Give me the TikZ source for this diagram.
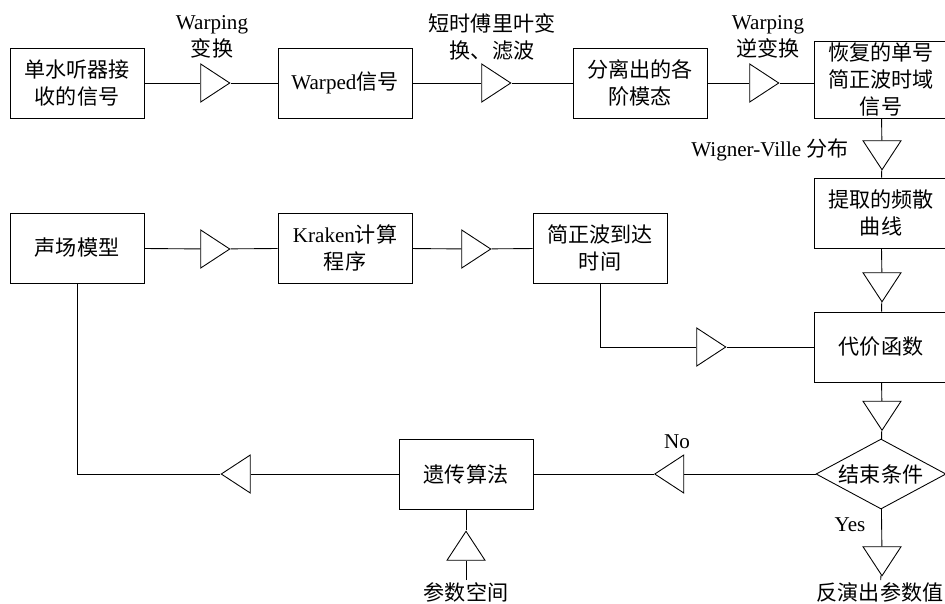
\documentclass[tikz,border=0pt]{standalone}
\usepackage{fontspec}
\setmainfont{Liberation Serif}
\newfontfamily\cjk{Noto Sans CJK SC}
\usetikzlibrary{shapes.geometric}
\newcommand{\zh}[1]{{\cjk #1}}
\tikzset{
  box/.style={draw,minimum width=2.68cm,minimum height=1.4cm,align=center,inner sep=1pt},
  tri/.style={draw,isosceles triangle,isosceles triangle stretches,inner sep=0pt,
    minimum width=0.76cm,minimum height=0.58cm,shape border rotate=#1},
  tri/.default=0,
  lbl/.style={align=center,inner sep=1pt}
}
\begin{document}
\begin{tikzpicture}[x=0.02cm,y=-0.02cm,line width=0.5pt,font=\fontsize{12}{15.3}\selectfont]
\useasboundingbox (0,0) rectangle (945,603);

% top row
\node[box] (rx) at (77,83) {\zh{单水听器接}\\\zh{收的信号}};
\node[tri] (t1) at (211,83) {};
\node[box] (wsig) at (345,83) {Warped\zh{信号}};
\node[tri] (t2) at (492,83) {};
\node[box] (modes) at (640,83) {\zh{分离出的各}\\\zh{阶模态}};
\node[tri] (t3) at (760,83) {};
\node[box,minimum height=1.54cm,inner sep=0pt] (rec) at (881,79.5) {\zh{恢复的单号}\\\zh{简正波时域}\\\zh{信号}};

\node[lbl] at (212,37) {Warping\\\zh{变换}};
\node[lbl] at (492,37) {\zh{短时傅里叶变}\\\zh{换、滤波}};
\node[lbl] at (768,37) {Warping\\\zh{逆变换}};

% right column
\node[tri=270] (v1) at (882,151) {};
\node[lbl] at (770,150) {Wigner-Ville \zh{分布}};
\node[box] (disp) at (881,213) {\zh{提取的频散}\\\zh{曲线}};
\node[tri=270] (v2) at (882,283) {};
\node[box] (cost) at (881,347) {\zh{代价函数}};
\node[tri=270] (v3) at (882,411.5) {};
\node[diamond,draw,aspect=1.86,inner sep=0pt,minimum width=2.6cm,minimum height=1.4cm] (stop) at (881,474) {\zh{结束条件}};
\node[tri=270] (v4) at (882,557) {};
\node[lbl] (res) at (880,592) {\zh{反演出参数值}};
\node[lbl] at (850,525) {Yes};

% middle row
\node[box] (field) at (77,248) {\zh{声场模型}};
\node[tri] (t4) at (211,249) {};
\node[box] (kraken) at (345,248) {Kraken\zh{计算}\\\zh{程序}};
\node[tri] (t5) at (472,249) {};
\node[box] (arr) at (600,248) {\zh{简正波到达}\\\zh{时间}};
\node[tri] (t6) at (707,347) {};

% bottom row
\node[tri=180] (l1) at (673.5,474) {};
\node[lbl] at (677,442) {No};
\node[box] (ga) at (466,474) {\zh{遗传算法}};
\node[tri=180] (l2) at (240,474) {};
\node[tri=90] (u1) at (466,550) {};
\node[lbl] (space) at (466,592) {\zh{参数空间}};

\draw (rx) -- (t1) -- (wsig) -- (t2) -- (modes) -- (t3) -- (t3 -| rec.west);
\draw (rec) -- (v1) -- (disp) -- (v2) -- (cost) -- (v3) -- (stop) -- (v4) -- (res);
\draw (field) -- (t4) -- (kraken) -- (t5) -- (arr);
\draw (arr) |- (t6);
\draw (t6) -- (cost);
\draw (stop) -- (l1) -- (ga) -- (l2);
\draw (l2) -| (field);
\draw (space) -- (u1) -- (ga);

\end{tikzpicture}
\end{document}
